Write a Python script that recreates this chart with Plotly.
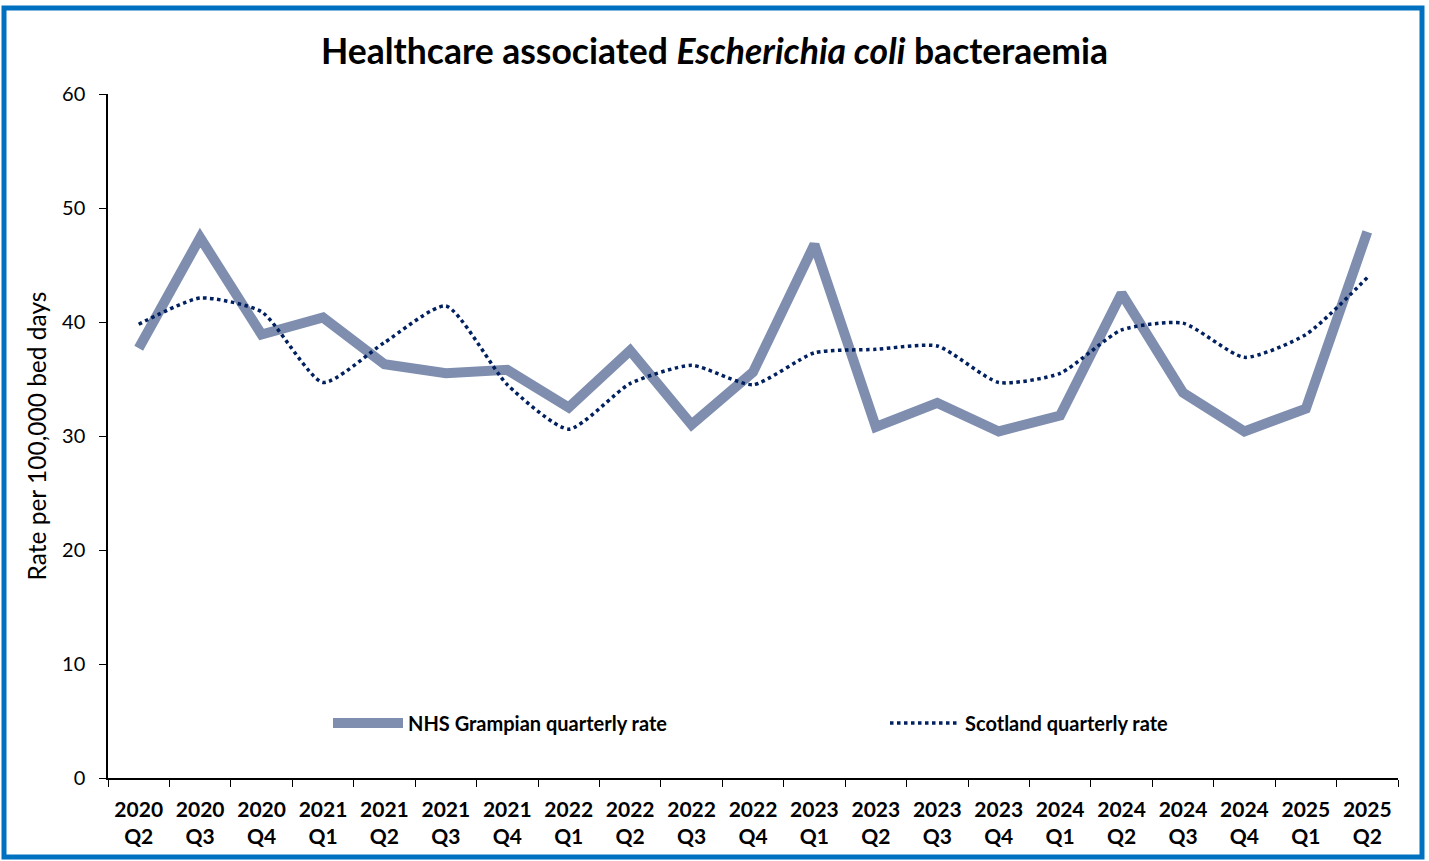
import plotly.graph_objects as go

quarters = ["2020<br>Q2", "2020<br>Q3", "2020<br>Q4", "2021<br>Q1", "2021<br>Q2", "2021<br>Q3", "2021<br>Q4",
            "2022<br>Q1", "2022<br>Q2", "2022<br>Q3", "2022<br>Q4", "2023<br>Q1", "2023<br>Q2", "2023<br>Q3",
            "2023<br>Q4", "2024<br>Q1", "2024<br>Q2", "2024<br>Q3", "2024<br>Q4", "2025<br>Q1", "2025<br>Q2"]
grampian = [37.7, 47.4, 38.9, 40.4, 36.3, 35.5, 35.8, 32.5, 37.5, 31.0, 35.6, 46.8, 30.8, 32.9,
            30.4, 31.8, 42.5, 33.8, 30.4, 32.4, 47.9]
scotland = [39.8, 42.1, 40.9, 34.7, 38.2, 41.4, 34.5, 30.6, 34.6, 36.2, 34.5, 37.3, 37.6, 37.9,
            34.7, 35.5, 39.3, 39.9, 36.9, 38.9, 43.9]

FONT = "Lato"
L, R, T, B = 108, 31, 94, 83
W, H = 1429, 861
PW, PH = W - L - R, H - T - B

fig = go.Figure()
fig.add_trace(go.Scatter(x=quarters, y=grampian, mode="lines", name="<b>NHS Grampian quarterly rate</b>",
                         line=dict(color="#7F8EAF", width=10), legend="legend"))
fig.add_trace(go.Scatter(x=quarters, y=scotland, mode="lines", name="<b>Scotland quarterly rate</b>",
                         line=dict(color="#002060", width=3.5, dash="dot", shape="spline", smoothing=0.6),
                         legend="legend2"))

leg_common = dict(yanchor="middle", xanchor="left", bgcolor="rgba(0,0,0,0)", itemwidth=70,
                  font=dict(size=20, family=FONT, color="black"))

fig.update_layout(
    width=W, height=H,
    margin=dict(l=L, r=R, t=T, b=B, autoexpand=False),
    paper_bgcolor="white", plot_bgcolor="white",
    font=dict(family=FONT, color="black", size=20),
    title=dict(text="<b>Healthcare associated <i>Escherichia coli</i> bacteraemia</b>",
               x=0.5, xanchor="center", y=1 - 52 / H, yanchor="middle",
               font=dict(size=35.5, family=FONT, color="black")),
    showlegend=True,
    legend=dict(x=(328 - L) / PW, y=(778 - 723) / PH, **leg_common),
    legend2=dict(x=(885 - L) / PW, y=(778 - 723) / PH, **leg_common),
    xaxis=dict(range=[-0.5, 20.5], showline=True, linecolor="black", linewidth=1.5, ticks="outside", ticklen=7,
               tickcolor="black", tickson="boundaries", showgrid=False, zeroline=False, automargin=False,
               ticklabelstandoff=12,
               tickfont=dict(size=21, family=FONT, color="black"), tickangle=0),
    yaxis=dict(range=[0, 60], dtick=10, showline=True, linecolor="black", linewidth=1.5,
               ticks="outside", ticklen=7, tickcolor="black", showgrid=False, zeroline=False, automargin=False,
               ticklabelstandoff=10,
               tickfont=dict(size=20, family=FONT, color="black"),
               title=dict(text="Rate per 100,000 bed days", font=dict(size=24.5, family=FONT), standoff=8)),
)
fig.update_xaxes(tickprefix="<b>", ticksuffix="</b>")

fig.add_shape(type="rect", xref="paper", yref="paper",
              x0=(4 - L) / PW, x1=(1422 - L) / PW,
              y0=(778 - 857) / PH, y1=(778 - 8) / PH,
              line=dict(color="#0070C0", width=5), fillcolor="rgba(0,0,0,0)", layer="below")

fig.write_html("out.html", config={"displayModeBar": False},
               post_script="document.body.style.margin='0px';")
